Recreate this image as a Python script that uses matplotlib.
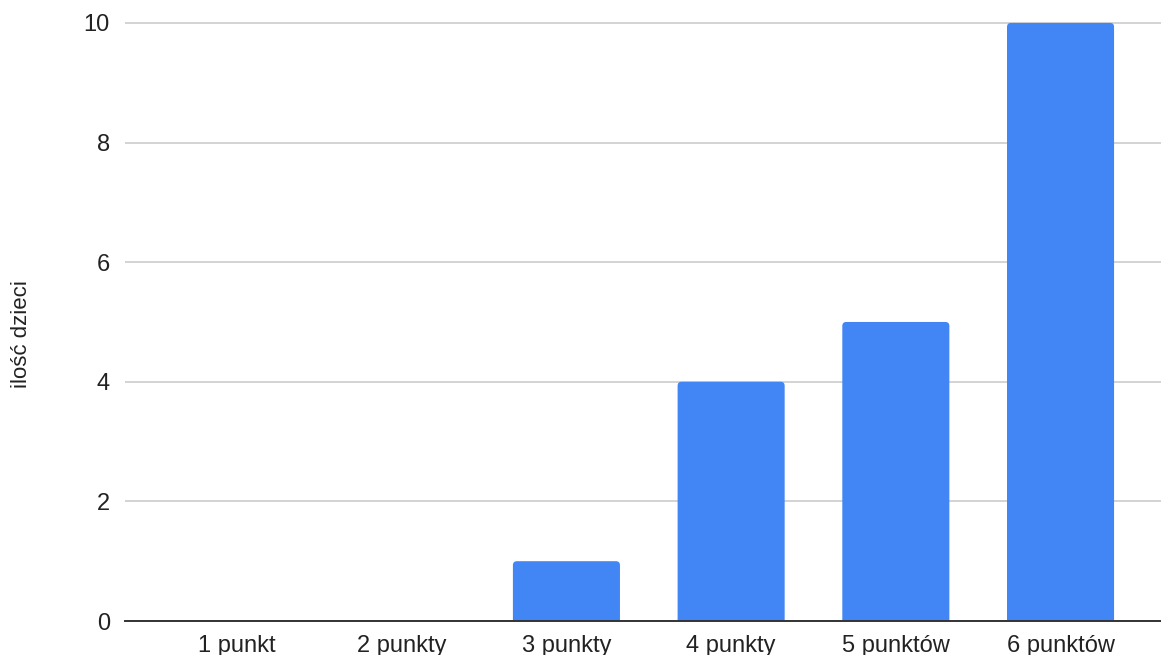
import matplotlib
matplotlib.use("Agg")
import matplotlib.pyplot as plt
from matplotlib.patches import FancyBboxPatch

categories = ["1 punkt", "2 punkty", "3 punkty", "4 punkty", "5 punktów", "6 punktów"]
counts = [0, 0, 1, 4, 5, 10]
y_ticks = [0, 2, 4, 6, 8, 10]
y_label = "ilość dzieci"

plt.rcParams["font.family"] = ["Liberation Sans", "DejaVu Sans"]

fig = plt.figure(figsize=(11.61, 6.55), dpi=100)
ax = fig.add_axes([0.1077, 0.0519, 0.8923, 0.9405])

bar_color = "#4285F4"
width = 0.65
x = list(range(len(categories)))

ax.set_xlim(-0.68, 5.61)
ax.set_ylim(0, 10.3)

# rounded-top bars; bottoms sit below zero so the axis clips them square
px_x = 6.29 / 1036.0
px_y = 10.3 / 616.0
r = 4 * px_x
for xi, v in zip(x, counts):
    if v <= 0:
        continue
    p = FancyBboxPatch((xi - width / 2, -0.3), width, v + 0.3,
                       boxstyle=f"round,pad=0,rounding_size={r}",
                       mutation_aspect=px_y / px_x,
                       facecolor=bar_color, edgecolor="none", zorder=3)
    ax.add_patch(p)

ax.set_yticks(y_ticks)
ax.set_yticklabels([str(t) for t in y_ticks])
ax.set_xticks(x)
ax.set_xticklabels(categories)
ax.tick_params(axis="both", length=0, labelsize=17, colors="#222222")
ax.tick_params(axis="y", pad=11)
ax.tick_params(axis="x", pad=10)

ax.grid(axis="y", color="#cccccc", linewidth=1.2, zorder=0)
ax.set_axisbelow(True)
for s in ("top", "right", "left"):
    ax.spines[s].set_visible(False)
ax.spines["bottom"].set_color("#333333")
ax.spines["bottom"].set_linewidth(1.4)
ax.spines["bottom"].set_zorder(4)

fig.text(0.0185, 0.49, y_label, rotation=90, ha="center", va="center",
         fontsize=16, color="#222222")

fig.savefig("out.png", dpi=100, facecolor="white")
